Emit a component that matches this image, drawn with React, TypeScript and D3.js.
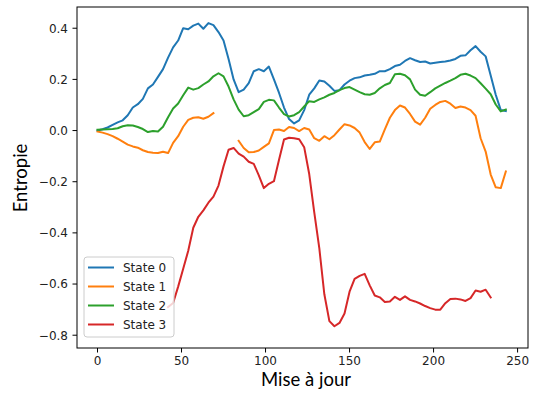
import * as d3 from 'd3';

// x = update index (every 3rd update)
const updates = d3.range(0, 244, 3);

const state0 = [
  0.000, 0.005, 0.012, 0.022, 0.032, 0.040, 0.060, 0.090, 0.103, 0.124,
  0.165, 0.180, 0.210, 0.240, 0.285, 0.325, 0.352, 0.400, 0.396, 0.410,
  0.418, 0.398, 0.420, 0.412, 0.385, 0.352, 0.280, 0.200, 0.150, 0.160,
  0.185, 0.232, 0.240, 0.232, 0.250, 0.200, 0.148, 0.090, 0.045, 0.028,
  0.040, 0.080, 0.140, 0.165, 0.196, 0.192, 0.175, 0.155, 0.158, 0.180,
  0.195, 0.205, 0.208, 0.215, 0.218, 0.222, 0.232, 0.232, 0.240, 0.252,
  0.257, 0.272, 0.283, 0.275, 0.268, 0.270, 0.262, 0.265, 0.268, 0.270,
  0.274, 0.280, 0.292, 0.294, 0.314, 0.330, 0.308, 0.290, 0.215, 0.140,
  0.080, 0.076,
];

const state1 = [
  -0.004, -0.008, -0.014, -0.022, -0.032, -0.043, -0.055, -0.062, -0.067, -0.077,
  -0.084, -0.087, -0.088, -0.083, -0.088, -0.048, -0.022, 0.015, 0.042, 0.050,
  0.052, 0.046, 0.054, 0.068, null, null, null, null, -0.040, -0.068,
  -0.085, -0.084, -0.078, -0.064, -0.050, 0.002, 0.004, -0.002, 0.014, 0.010,
  -0.002, 0.010, 0.004, -0.030, -0.040, -0.022, -0.034, -0.018, 0.004, 0.025,
  0.020, 0.010, -0.008, -0.045, -0.072, -0.046, -0.043, 0.005, 0.050, 0.080,
  0.098, 0.090, 0.065, 0.035, 0.023, 0.050, 0.085, 0.100, 0.112, 0.116,
  0.105, 0.088, 0.094, 0.090, 0.080, 0.058, -0.030, -0.082, -0.172, -0.222,
  -0.225, -0.160,
];

const state2 = [
  0.003, 0.004, 0.005, 0.006, 0.009, 0.017, 0.021, 0.020, 0.014, 0.006,
  -0.006, -0.002, -0.004, 0.015, 0.052, 0.086, 0.106, 0.138, 0.168, 0.160,
  0.166, 0.180, 0.192, 0.212, 0.224, 0.212, 0.172, 0.122, 0.082, 0.056,
  0.060, 0.072, 0.084, 0.112, 0.120, 0.118, 0.090, 0.064, 0.055, 0.060,
  0.072, 0.094, 0.115, 0.112, 0.122, 0.130, 0.140, 0.147, 0.158, 0.166,
  0.170, 0.160, 0.150, 0.142, 0.140, 0.147, 0.165, 0.178, 0.186, 0.220,
  0.222, 0.216, 0.200, 0.160, 0.140, 0.136, 0.150, 0.165, 0.176, 0.186,
  0.195, 0.205, 0.218, 0.222, 0.215, 0.205, 0.185, 0.164, 0.142, 0.102,
  0.075, 0.082,
];

const state3 = [
  null, null, null, null, null, null, null, null, null, null,
  null, null, null, null, -0.690, -0.674, -0.610, -0.540, -0.470, -0.380,
  -0.337, -0.312, -0.282, -0.258, -0.215, -0.140, -0.075, -0.068, -0.090, -0.102,
  -0.122, -0.130, -0.175, -0.225, -0.208, -0.198, -0.115, -0.035, -0.028, -0.030,
  -0.034, -0.065, -0.170, -0.320, -0.460, -0.640, -0.745, -0.765, -0.752, -0.715,
  -0.630, -0.580, -0.568, -0.560, -0.605, -0.645, -0.652, -0.670, -0.668, -0.650,
  -0.662, -0.648, -0.662, -0.668, -0.676, -0.686, -0.694, -0.700, -0.700, -0.675,
  -0.658, -0.657, -0.660, -0.666, -0.655, -0.625, -0.630, -0.622, -0.652, null,
  null, null,
];

const seriesNames = ['State 0', 'State 1', 'State 2', 'State 3'];
const seriesValues = [state0, state1, state2, state3];
const colors = ['#1f77b4', '#ff7f0e', '#2ca02c', '#d62728'];

const xTicks = [0, 50, 100, 150, 200, 250];
const yTicks = [-0.8, -0.6, -0.4, -0.2, 0.0, 0.2, 0.4];

const width = 534;
const height = 393;
const margin = { top: 7, right: 6, bottom: 45, left: 77 };
const tickFont = 'DejaVu Sans, sans-serif';
const labelFont = 'Lato, sans-serif';

export default function App() {
  const x = d3.scaleLinear()
    .domain([-12.2, 256.2])
    .range([margin.left, width - margin.right]);
  const y = d3.scaleLinear()
    .domain([-0.85, 0.483])
    .range([height - margin.bottom, margin.top]);

  const line = d3.line<number | null>()
    .defined(d => d !== null)
    .x((d, i) => x(updates[i]))
    .y(d => y(d as number));

  const fmt = d3.format('.1f');
  const plotBottom = height - margin.bottom;

  // legend box
  const lg = { x: 84, y: 257, w: 90, h: 80, row: 19 };

  return (
    <svg width={width} height={height}
      style={{ position: 'absolute', left: 0, top: 0, background: '#fff' }}>
      {seriesValues.map((vals, i) => (
        <path key={seriesNames[i]} d={line(vals) || ''} fill="none"
          stroke={colors[i]} strokeWidth={2} strokeLinejoin="round" strokeLinecap="square" />
      ))}

      <rect x={margin.left} y={margin.top}
        width={width - margin.left - margin.right} height={plotBottom - margin.top}
        fill="none" stroke="#000" strokeWidth={1} />

      {xTicks.map(t => (
        <g key={t} transform={`translate(${x(t)},${plotBottom})`}>
          <line y2={4.5} stroke="#000" strokeWidth={1} />
          <text y={17} textAnchor="middle" fontFamily={tickFont} fontSize={12} fill="#222">{t}</text>
        </g>
      ))}
      {yTicks.map(t => (
        <g key={t} transform={`translate(${margin.left},${y(t)})`}>
          <line x2={-4.5} stroke="#000" strokeWidth={1} />
          <text x={-9} dy="0.36em" textAnchor="end" fontFamily={tickFont} fontSize={12} fill="#222">
            {fmt(t)}
          </text>
        </g>
      ))}

      <text x={306} y={386} textAnchor="middle" fontFamily={labelFont} fontSize={18.5} fill="#000">Mise à jour</text>
      <text transform={`translate(27,178) rotate(-90)`} textAnchor="middle" fontFamily={labelFont}
        fontSize={18.5} fill="#000">Entropie</text>

      <g>
        <rect x={lg.x} y={lg.y} width={lg.w} height={lg.h} rx={3}
          fill="#fff" fillOpacity={0.8} stroke="#ccc" strokeWidth={1} />
        {seriesNames.map((name, i) => {
          const cy = lg.y + 10.5 + i * lg.row;
          return (
            <g key={name}>
              <line x1={lg.x + 4} x2={lg.x + 30} y1={cy} y2={cy} stroke={colors[i]} strokeWidth={2} />
              <text x={lg.x + 39} y={cy} dy="0.36em" fontFamily={tickFont} fontSize={12} fill="#222">{name}</text>
            </g>
          );
        })}
      </g>
    </svg>
  );
}
